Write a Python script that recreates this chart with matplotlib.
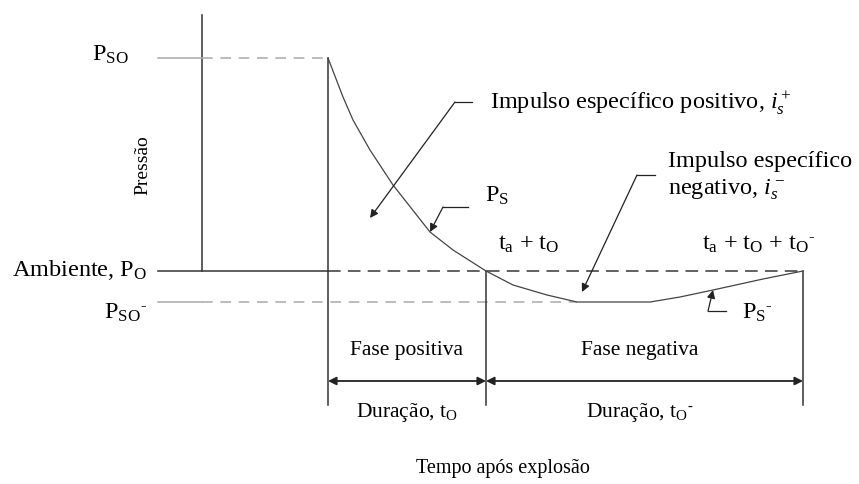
import matplotlib.pyplot as plt

plt.rcParams['font.family'] = ['Liberation Serif', 'DejaVu Serif']
plt.rcParams['mathtext.fontset'] = 'custom'
plt.rcParams['mathtext.rm'] = 'Liberation Serif'
plt.rcParams['mathtext.it'] = 'Liberation Serif:italic'

# time since detonation and pressure above ambient (arbitrary units)
t_a = 126         # arrival time
t_o = 158         # positive phase duration
t_o_neg = 317     # negative phase duration
p_so = 213        # peak overpressure
p_so_neg = -31    # peak underpressure

# positive phase, time counted from arrival
pos_t = [0, 15, 25, 42, 65, 102, 125, 158]
pos_p = [213, 174, 151, 121, 86, 39, 21, 0]

# negative phase, time counted from the end of the positive phase
neg_t = [0, 27, 61, 91, 164, 194, 227, 277, 307, 317]
neg_p = [0, -14, -24, -31, -31, -26, -19, -8, -2, 0]

FS = 17.5      # annotation labels
FS_DIM = 15.5  # phase / duration labels
DARK = '#333333'
LIGHT = '#aaaaaa'
MID = '#555555'
SUP = r'{}^{\text{-}}'  # short raised dash after a subscript

t_end_pos = t_a + t_o
t_end = t_end_pos + t_o_neg
left = -44
bottom = -134
dim_y = -110

fig = plt.figure(figsize=(8.59, 4.84), dpi=100)
ax = fig.add_axes([0, 0, 1, 1])
ax.set_xlim(-202, 657)
ax.set_ylim(-213, 271)
ax.axis('off')

# pressure axis
ax.plot([0, 0], [0, 256], color=DARK, lw=1.1)

# reference levels
ax.plot([left, t_a], [0, 0], color=DARK, lw=1.1)
ax.plot([t_a, t_end], [0, 0], color=MID, lw=1.3, dashes=(7, 4))
ax.plot([left, 0], [p_so, p_so], color=LIGHT, lw=1.1)
ax.plot([0, t_a], [p_so, p_so], color=LIGHT, lw=1.1, dashes=(7, 5))
t_min = t_end_pos + neg_t[neg_p.index(p_so_neg)]
ax.plot([left, 0], [p_so_neg, p_so_neg], color=LIGHT, lw=1.1)
ax.plot([0, t_min], [p_so_neg, p_so_neg], color=LIGHT, lw=1.1, dashes=(7, 5))

# phase boundaries
ax.plot([t_a, t_a], [p_so, bottom], color=DARK, lw=1.1)
ax.plot([t_end_pos, t_end_pos], [0, bottom], color=DARK, lw=1.1)
ax.plot([t_end, t_end], [0, bottom], color=DARK, lw=1.1)

# pressure history
ax.plot([t_a + t for t in pos_t], pos_p, color='#444444', lw=0.9)
ax.plot([t_end_pos + t for t in neg_t], neg_p, color='#444444', lw=0.9)

# duration arrows
dim = dict(arrowstyle='<|-|>', color='#222222', lw=1.3, mutation_scale=12,
           shrinkA=0, shrinkB=0)
ax.annotate('', xy=(t_a, dim_y), xytext=(t_end_pos, dim_y), arrowprops=dim)
ax.annotate('', xy=(t_end_pos, dim_y), xytext=(t_end, dim_y), arrowprops=dim)


def leader(x0, x1, y, tip):
    ax.plot([x0, x1], [y, y], color='#222222', lw=0.9)
    ax.annotate('', xy=tip, xytext=(x1, y),
                arrowprops=dict(arrowstyle='-|>', color='#222222', lw=0.9,
                                mutation_scale=12, shrinkA=0, shrinkB=0))


leader(270, 253, 169, (168, 53))
leader(266, 241, 64, (t_a + pos_t[5], pos_p[5]))
leader(453, 435, 96, (380, -21))
leader(524, 506, -40, (t_end_pos + neg_t[6], neg_p[6]))

# labels
ax.text(-73, 216, r'P$_\mathrm{SO}$', fontsize=FS, ha='right', va='center')
ax.text(-55, 1, r'Ambiente, P$_\mathrm{O}$', fontsize=FS, ha='right', va='center')
ax.text(-55, -42, r'P$_\mathrm{SO}' + SUP + '$', fontsize=FS, ha='right', va='center')
ax.text(-59, 106, 'Pressão', fontsize=14, rotation=90, ha='center', va='center')

ax.text(288, 168, r'Impulso específico positivo, $i_s^+$', fontsize=FS,
        ha='left', va='center')
ax.text(283, 75, r'P$_\mathrm{S}$', fontsize=FS, ha='left', va='center')
ax.text(466, 109, 'Impulso específico', fontsize=FS, ha='left', va='center')
ax.text(466, 81, r'negativo, $i_s^-$', fontsize=FS, ha='left', va='center')
ax.text(296, 27, r't$_\mathrm{a}$ + t$_\mathrm{O}$', fontsize=FS,
        ha='left', va='center')
ax.text(500, 27, r't$_\mathrm{a}$ + t$_\mathrm{O}$ + t$_\mathrm{O}' + SUP + '$',
        fontsize=FS, ha='left', va='center')
ax.text(540, -42, r'P$_\mathrm{S}' + SUP + '$', fontsize=FS, ha='left', va='center')

ax.text(t_a + t_o / 2, -80, 'Fase positiva', fontsize=FS_DIM, ha='center', va='center')
ax.text(t_end_pos + t_o_neg / 2 - 5, -80, 'Fase negativa', fontsize=FS_DIM,
        ha='center', va='center')
ax.text(t_a + t_o / 2, -142, r'Duração, t$_\mathrm{O}$', fontsize=FS_DIM,
        ha='center', va='center')
ax.text(t_end_pos + t_o_neg / 2 - 5, -142, r'Duração, t$_\mathrm{O}' + SUP + '$',
        fontsize=FS_DIM, ha='center', va='center')
ax.text(214, -198, 'Tempo após explosão', fontsize=14.5, ha='left', va='center')

fig.savefig('out.png', dpi=100)
